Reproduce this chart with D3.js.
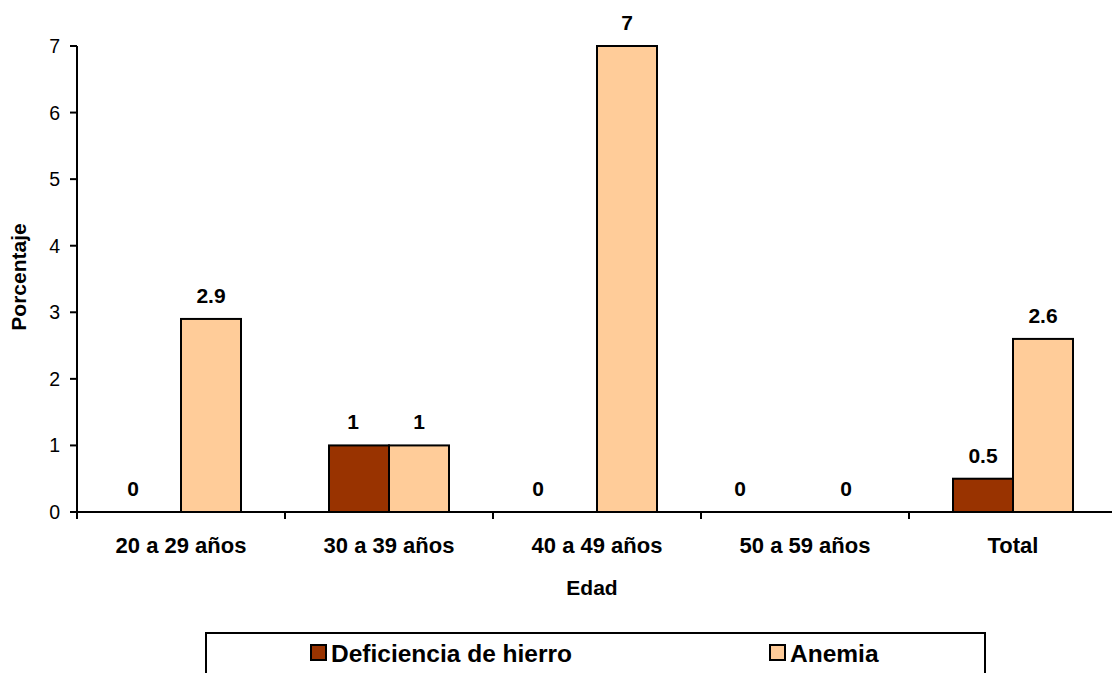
<!DOCTYPE html>
<html><head><meta charset="utf-8">
<script src="https://cdn.jsdelivr.net/npm/d3@7/dist/d3.min.js"></script>
<style>body{margin:0;background:#fff}svg{display:block}text{font-family:"Liberation Sans",Arial,sans-serif}</style>
</head><body>
<script>
const categories = ["20 a 29 años","30 a 39 años","40 a 49 años","50 a 59 años","Total"];
const deficiencia = [0, 1, 0, 0, 0.5];
const anemia = [2.9, 1, 7, 0, 2.6];
const seriesNames = ["Deficiencia de hierro","Anemia"];
const seriesColors = ["#993300","#FFCC99"];
const yTicks = [0,1,2,3,4,5,6,7];

const W = 1112, H = 673;
const svg = d3.select("body").append("svg").attr("width",W).attr("height",H);
const pLeft = 77, pRight = 1117, pTop = 46, pBottom = 512;

const x = d3.scaleBand().domain(categories).range([pLeft,pRight]).paddingInner(0).paddingOuter(0);
const y = d3.scaleLinear().domain([0,7]).range([pBottom,pTop]);
const barW = 60;
const xs = d3.scaleBand().domain(seriesNames).range([0,barW*2]);

const series = [deficiencia, anemia];
// label nudges (Excel-like placement of labels)
const labelDx = {"0-0":-18,"0-1":-6,"0-2":-29,"1-3":11,"0-3":-35};

series.forEach((vals,si)=>{
  const g = svg.append("g");
  vals.forEach((v,ci)=>{
    const cx = x(categories[ci]) + x.bandwidth()/2 - barW + xs(seriesNames[si]);
    if (v > 0) {
      g.append("rect").attr("x",cx).attr("y",y(v)).attr("width",barW).attr("height",pBottom-y(v))
        .attr("fill",seriesColors[si]).attr("stroke","#000").attr("stroke-width",2);
    }
    const dx = labelDx[si+"-"+ci] || 0;
    svg.append("text").attr("x",cx+barW/2+dx).attr("y",y(v)-16)
      .attr("text-anchor","middle").attr("font-size",21).attr("font-weight","bold").text(v);
  });
});

// y axis
svg.append("line").attr("x1",pLeft).attr("x2",pLeft).attr("y1",pTop).attr("y2",pBottom).attr("stroke","#000").attr("stroke-width",2);
yTicks.forEach(t=>{
  svg.append("line").attr("x1",pLeft-7).attr("x2",pLeft).attr("y1",y(t)).attr("y2",y(t)).attr("stroke","#000").attr("stroke-width",2);
  svg.append("text").attr("x",pLeft-17).attr("y",y(t)+7).attr("text-anchor","end").attr("font-size",19.5).text(t);
});
// x axis
svg.append("line").attr("x1",pLeft).attr("x2",W).attr("y1",pBottom).attr("y2",pBottom).attr("stroke","#000").attr("stroke-width",2);
categories.forEach((c,i)=>{
  const xx = x(c);
  svg.append("line").attr("x1",xx).attr("x2",xx).attr("y1",pBottom).attr("y2",pBottom+7).attr("stroke","#000").attr("stroke-width",2);
  svg.append("text").attr("x",xx+x.bandwidth()/2).attr("y",553).attr("text-anchor","middle")
    .attr("font-size",22).attr("font-weight","bold").text(c);
});
svg.append("text").attr("x",592).attr("y",595).attr("text-anchor","middle").attr("font-size",21).attr("font-weight","bold").text("Edad");
svg.append("text").attr("transform","translate(26,277) rotate(-90)").attr("text-anchor","middle").attr("font-size",21).attr("font-weight","bold").text("Porcentaje");

// legend
svg.append("rect").attr("x",206).attr("y",633).attr("width",779).attr("height",60).attr("fill","none").attr("stroke","#000").attr("stroke-width",2);
const legX = [311, 770];
seriesNames.forEach((n,i)=>{
  svg.append("rect").attr("x",legX[i]).attr("y",645).attr("width",15).attr("height",15).attr("fill",seriesColors[i]).attr("stroke","#000").attr("stroke-width",2);
  svg.append("text").attr("x",legX[i]+20).attr("y",662).attr("font-size",24.5).attr("font-weight","bold").text(n);
});
</script>
</body></html>
